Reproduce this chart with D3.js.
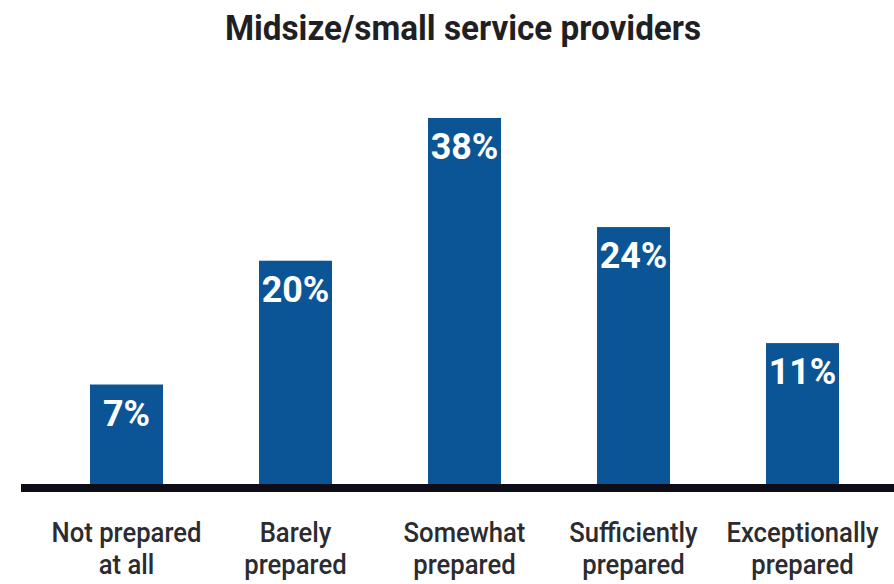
<!DOCTYPE html>
<html>
<head>
<meta charset="utf-8">
<script src="https://cdn.jsdelivr.net/npm/d3@7"></script>
<style>
  html, body { margin: 0; padding: 0; background: #fff; }
  svg { display: block; }
</style>
</head>
<body>
<div id="chart"></div>
<script>
// data
var categories = ["Not prepared|at all", "Barely|prepared", "Somewhat|prepared", "Sufficiently|prepared", "Exceptionally|prepared"];
var values = [7, 20, 38, 24, 11];
var valueLabels = ["7%", "20%", "38%", "24%", "11%"];
var title = "Midsize/small service providers";

var width = 894, height = 584;
var baseY = 484;

var svg = d3.select("#chart")
  .append("svg")
  .attr("width", width)
  .attr("height", height);

var x = d3.scaleBand()
  .domain(categories)
  .range([42, 887])
  .paddingInner(0.568)
  .paddingOuter(0.284);

// bars in the original are not linear from zero, a power scale fits them
var y = d3.scalePow()
  .exponent(0.77)
  .domain([0, 38])
  .range([baseY, 118]);

// narrow look of the original typeface
var squeeze = function (k) {
  return function (sel) {
    sel.each(function () {
      var len = this.getComputedTextLength();
      d3.select(this)
        .attr("textLength", len * k)
        .attr("lengthAdjust", "spacingAndGlyphs");
    });
  };
};

// title
svg.append("text")
  .attr("x", 463)
  .attr("y", 40)
  .attr("text-anchor", "middle")
  .attr("font-family", "Roboto, sans-serif")
  .attr("font-weight", "bold")
  .attr("font-size", "35px")
  .attr("fill", "#1f1f24")
  .text(title)
  .call(squeeze(0.95));

// bars
svg.selectAll(".bar")
  .data(values)
  .enter()
  .append("rect")
  .attr("class", "bar")
  .attr("x", function (d, i) { return x(categories[i]); })
  .attr("y", function (d) { return y(d); })
  .attr("width", x.bandwidth())
  .attr("height", function (d) { return baseY - y(d); })
  .attr("fill", "#0b5596");

// value labels inside bars
svg.selectAll(".val")
  .data(values)
  .enter()
  .append("text")
  .attr("class", "val")
  .attr("x", function (d, i) { return x(categories[i]) + x.bandwidth() / 2; })
  .attr("y", function (d) { return y(d) + 41; })
  .attr("text-anchor", "middle")
  .attr("font-family", "Roboto, sans-serif")
  .attr("font-weight", "bold")
  .attr("font-size", "37px")
  .attr("fill", "#fff")
  .text(function (d, i) { return valueLabels[i]; })
  .call(squeeze(0.97));

// baseline
svg.append("rect")
  .attr("x", 21)
  .attr("y", baseY)
  .attr("width", width - 21)
  .attr("height", 8)
  .attr("fill", "#0e0c16");

// category labels, two lines each
var cat = svg.selectAll(".cat")
  .data(categories)
  .enter()
  .append("g")
  .attr("class", "cat");

cat.each(function (c) {
  var g = d3.select(this);
  var cx = x(c) + x.bandwidth() / 2;
  c.split("|").forEach(function (line, j) {
    g.append("text")
      .attr("x", cx)
      .attr("y", 542 + j * 32)
      .attr("text-anchor", "middle")
      .attr("font-family", "Roboto, sans-serif")
      .attr("font-weight", 500)
      .attr("font-size", "27px")
      .attr("fill", "#2b2b30")
      .text(line)
      .call(squeeze(0.95));
  });
});
</script>
</body>
</html>
